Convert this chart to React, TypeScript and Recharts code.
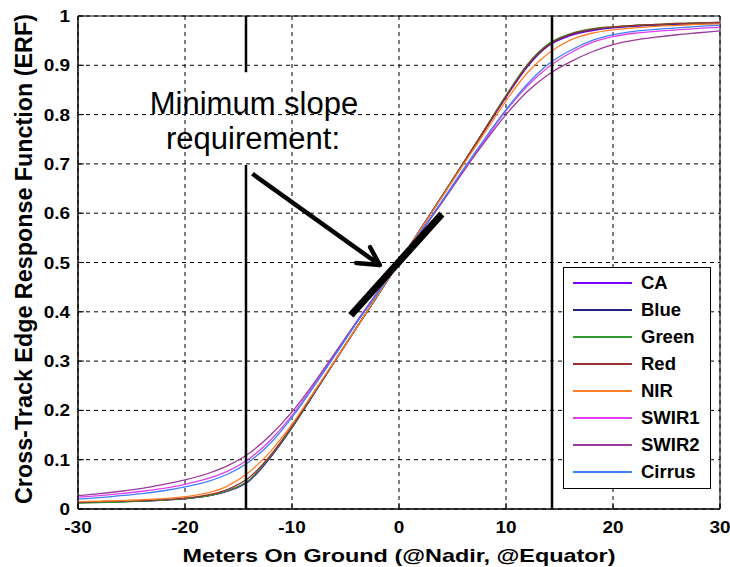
import React from 'react';
import { LineChart, Line, XAxis, YAxis, CartesianGrid, ReferenceLine, ReferenceArea } from 'recharts';

// sample positions along the cross-track profile (meters)
const meters = [-30, -28, -26, -24, -22, -20, -18, -16, -14, -12, -10, -8, -6, -4, -2, 0, 2, 4, 6, 8, 10, 12, 14, 16, 18, 20, 22, 24, 26, 28, 30];

const ca = [0.013, 0.014, 0.015, 0.016, 0.018, 0.021, 0.026, 0.036, 0.057, 0.105, 0.165, 0.232, 0.3, 0.367, 0.433, 0.5, 0.567, 0.633, 0.7, 0.768, 0.835, 0.897, 0.94, 0.96, 0.97, 0.976, 0.979, 0.981, 0.983, 0.984, 0.985];
const blue = [0.013, 0.014, 0.015, 0.016, 0.018, 0.021, 0.026, 0.037, 0.058, 0.106, 0.165, 0.232, 0.3, 0.367, 0.433, 0.5, 0.567, 0.634, 0.701, 0.769, 0.837, 0.899, 0.941, 0.962, 0.972, 0.977, 0.98, 0.982, 0.984, 0.985, 0.986];
const green = [0.012, 0.013, 0.014, 0.016, 0.018, 0.021, 0.026, 0.037, 0.059, 0.107, 0.166, 0.233, 0.3, 0.367, 0.433, 0.5, 0.567, 0.634, 0.702, 0.77, 0.839, 0.902, 0.944, 0.964, 0.974, 0.978, 0.981, 0.983, 0.985, 0.986, 0.987];
const red = [0.014, 0.015, 0.016, 0.017, 0.019, 0.022, 0.028, 0.04, 0.064, 0.109, 0.168, 0.234, 0.3, 0.367, 0.433, 0.5, 0.567, 0.634, 0.701, 0.769, 0.837, 0.9, 0.942, 0.963, 0.973, 0.978, 0.981, 0.983, 0.985, 0.986, 0.987];
const nir = [0.015, 0.016, 0.017, 0.019, 0.021, 0.025, 0.032, 0.047, 0.075, 0.117, 0.172, 0.236, 0.301, 0.367, 0.434, 0.5, 0.566, 0.632, 0.698, 0.763, 0.828, 0.885, 0.925, 0.951, 0.965, 0.972, 0.976, 0.979, 0.981, 0.983, 0.984];
const swir1 = [0.024, 0.027, 0.031, 0.036, 0.042, 0.05, 0.061, 0.077, 0.102, 0.14, 0.19, 0.25, 0.313, 0.377, 0.439, 0.5, 0.561, 0.623, 0.686, 0.747, 0.808, 0.858, 0.897, 0.925, 0.946, 0.958, 0.965, 0.969, 0.972, 0.975, 0.977];
const swir2 = [0.027, 0.031, 0.036, 0.042, 0.05, 0.059, 0.071, 0.088, 0.113, 0.15, 0.197, 0.254, 0.316, 0.379, 0.44, 0.5, 0.56, 0.621, 0.684, 0.744, 0.8, 0.847, 0.882, 0.907, 0.927, 0.942, 0.951, 0.957, 0.962, 0.966, 0.97];
const cirrus = [0.02, 0.023, 0.027, 0.031, 0.037, 0.045, 0.055, 0.071, 0.096, 0.134, 0.186, 0.247, 0.311, 0.376, 0.438, 0.5, 0.562, 0.624, 0.689, 0.751, 0.81, 0.862, 0.903, 0.93, 0.95, 0.962, 0.969, 0.973, 0.976, 0.979, 0.981];

const bandNames = ['CA', 'Blue', 'Green', 'Red', 'NIR', 'SWIR1', 'SWIR2', 'Cirrus'];
const bandValues = [ca, blue, green, red, nir, swir1, swir2, cirrus];
const bandColors = ['#8000ff', '#22227f', '#2e9a2e', '#9a3030', '#ff7f27', '#e040f0', '#9a3a9a', '#4080ff'];

const xTicks = [-30, -20, -10, 0, 10, 20, 30];
const yTicks = [0, 0.1, 0.2, 0.3, 0.4, 0.5, 0.6, 0.7, 0.8, 0.9, 1];

// annotation geometry, in data units
const edgeLimit = 14.3;
const slopeLine = [{ x: -4.5, y: 0.393 }, { x: 4.0, y: 0.598 }];
const arrowTail = { x: -13.7, y: 0.68 };
const arrowTip = { x: -1.8, y: 0.495 };
const arrowBarbs = [{ x: -4.0, y: 0.499 }, { x: -2.7, y: 0.531 }];

const rows = meters.map((x, i) => {
  const row: Record<string, number> = { x };
  bandNames.forEach((name, j) => {
    row[name] = bandValues[j][i];
  });
  return row;
});

const FONT = '"Liberation Sans", Arial, sans-serif';

// matlab-ish wide bold tick labels
const XTick = (props: any) => (
  <text
    transform={`translate(${props.x}, ${props.y + 12}) scale(1.15, 1)`}
    textAnchor="middle"
    fontFamily={FONT}
    fontWeight="bold"
    fontSize={16.5}
    fill="#000"
  >
    {props.payload.value}
  </text>
);

const YTick = (props: any) => (
  <text
    transform={`translate(${props.x}, ${props.y + 6}) scale(1.15, 1)`}
    textAnchor="end"
    fontFamily={FONT}
    fontWeight="bold"
    fontSize={16.5}
    fill="#000"
  >
    {String(Math.round(props.payload.value * 10) / 10)}
  </text>
);

export default function App() {
  return (
    <div style={{ position: 'absolute', left: 0, top: 0, width: 730, height: 567, background: '#fff' }}>
      <LineChart width={730} height={567} data={rows} margin={{ top: 16, right: 10, bottom: 0, left: 0 }}>
        <CartesianGrid stroke="#000" strokeDasharray="4 4" strokeWidth={1} />
        <XAxis
          dataKey="x"
          type="number"
          domain={[-30, 30]}
          ticks={xTicks}
          height={58}
          tick={XTick}
          tickSize={-6}
          tickMargin={18}
          axisLine={{ stroke: '#000' }}
          tickLine={{ stroke: '#000' }}
          allowDataOverflow
        />
        <YAxis
          type="number"
          domain={[0, 1]}
          ticks={yTicks}
          width={78}
          tick={YTick}
          tickSize={-6}
          tickMargin={14}
          axisLine={{ stroke: '#000' }}
          tickLine={{ stroke: '#000' }}
          allowDataOverflow
        />
        <ReferenceArea x1={-30} x2={30} y1={0} y2={1} fill="none" stroke="#000" strokeWidth={1} />
        {bandNames.map((name, i) => (
          <Line
            key={name}
            dataKey={name}
            type="monotone"
            stroke={bandColors[i]}
            strokeWidth={1.3}
            dot={false}
            isAnimationActive={false}
          />
        ))}
        <ReferenceLine segment={[{ x: -edgeLimit, y: 1 }, { x: -edgeLimit, y: 0.886 }]} stroke="#000" strokeWidth={2.5} />
        <ReferenceLine segment={[{ x: -edgeLimit, y: 0.698 }, { x: -edgeLimit, y: 0 }]} stroke="#000" strokeWidth={2.5} />
        <ReferenceLine segment={[{ x: edgeLimit, y: 1 }, { x: edgeLimit, y: 0 }]} stroke="#000" strokeWidth={2.5} />
        <ReferenceLine segment={slopeLine} stroke="#000" strokeWidth={7} />
        <ReferenceLine segment={[arrowTail, arrowTip]} stroke="#000" strokeWidth={4.5} />
        <ReferenceLine segment={[arrowBarbs[0], arrowTip]} stroke="#000" strokeWidth={4.5} strokeLinecap="round" />
        <ReferenceLine segment={[arrowBarbs[1], arrowTip]} stroke="#000" strokeWidth={4.5} strokeLinecap="round" />
      </LineChart>

      <svg width={730} height={567} style={{ position: 'absolute', left: 0, top: 0, pointerEvents: 'none' }}>
        <text
          x={399}
          y={562}
          textAnchor="middle"
          fontFamily={FONT}
          fontWeight="bold"
          fontSize={19}
          textLength={433}
          lengthAdjust="spacingAndGlyphs"
        >
          Meters On Ground (@Nadir, @Equator)
        </text>
        <text
          transform="translate(32, 259) rotate(-90)"
          textAnchor="middle"
          fontFamily={FONT}
          fontWeight="bold"
          fontSize={23}
          textLength={490}
          lengthAdjust="spacingAndGlyphs"
        >
          Cross-Track Edge Response Function (ERF)
        </text>
        <text x={254} y={114} textAnchor="middle" fontFamily={FONT} fontSize={31}>Minimum slope</text>
        <text x={253} y={149} textAnchor="middle" fontFamily={FONT} fontSize={31}>requirement:</text>
      </svg>

      <div
        style={{
          position: 'absolute',
          left: 563,
          top: 267,
          width: 148,
          height: 222,
          boxSizing: 'border-box',
          border: '1.5px solid #000',
          background: '#fff',
          fontFamily: FONT,
        }}
      >
        {bandNames.map((name, i) => (
          <div key={name} style={{ position: 'absolute', left: 0, top: 2 + i * 27, height: 27, width: '100%' }}>
            <div style={{ position: 'absolute', left: 9, top: 12, width: 59, height: 2, background: bandColors[i] }} />
            <div style={{ position: 'absolute', left: 77, top: 2, fontSize: 18.5, fontWeight: 'bold', lineHeight: '22px' }}>
              {name}
            </div>
          </div>
        ))}
      </div>
    </div>
  );
}
